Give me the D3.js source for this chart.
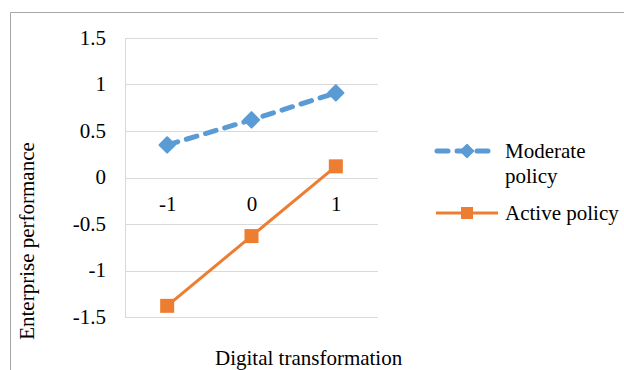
<!DOCTYPE html>
<html><head><meta charset="utf-8">
<script src="https://cdn.jsdelivr.net/npm/d3@7"></script>
<style>body{margin:0;background:#fff}svg{display:block}text{font-family:"Liberation Serif","Times New Roman",serif;fill:#000}</style>
</head><body><svg id="c" width="624" height="370"></svg>
<script>
const categories = ["-1", "0", "1"];
const moderate = [0.35, 0.62, 0.91];
const active = [-1.38, -0.63, 0.12];
const yTicks = [1.5, 1, 0.5, 0, -0.5, -1, -1.5];
const seriesNames = ["Moderate policy", "Active policy"];

const svg = d3.select("#c");
const blue = "#5B9BD5", orange = "#ED7D31";
const fs = 21;

// outer border
svg.append("path").attr("d", "M10.5,372 V12.5 H630").attr("fill", "none").attr("stroke", "#A6A6A6").attr("stroke-width", 1);

const x = d3.scalePoint().domain(categories).range([125, 378]).padding(0.5);
const y = d3.scaleLinear().domain([-1.5, 1.5]).range([317, 38]);

// gridlines
const g = svg.append("g");
g.selectAll("line.grid").data(yTicks).enter().append("line")
  .attr("x1", 125).attr("x2", 378)
  .attr("y1", d => Math.round(y(d)) + 0.5).attr("y2", d => Math.round(y(d)) + 0.5)
  .attr("stroke", "#D9D9D9").attr("stroke-width", 1);
g.append("line").attr("x1", 125.5).attr("x2", 125.5).attr("y1", Math.round(y(1.5))).attr("y2", Math.round(y(-1.5)) + 1)
  .attr("stroke", "#D9D9D9");

// y tick labels
const yAxis = d3.axisLeft(y).tickValues(yTicks).tickSize(0).tickPadding(19).tickFormat(d => String(d));
const ya = svg.append("g").attr("transform", "translate(125,0)").call(yAxis);
ya.select(".domain").remove();
ya.selectAll("text").attr("font-size", fs).attr("font-family", "Liberation Serif").attr("fill", "#000").attr("dy", "0.3em");

// x tick labels (at y=0 axis, below)
const xAxis = d3.axisBottom(x).tickSize(0).tickPadding(0);
const xa = svg.append("g").attr("transform", `translate(0,${y(0)})`).call(xAxis);
xa.select(".domain").remove();
xa.selectAll("text").attr("font-size", fs).attr("font-family", "Liberation Serif").attr("fill", "#000").attr("dy", null).attr("y", 33);

// lines
const line = d3.line().x((d, i) => x(categories[i])).y(d => y(d));
svg.append("path").datum(active).attr("d", line).attr("fill", "none").attr("stroke", orange).attr("stroke-width", 3);
svg.append("path").datum(moderate).attr("d", line).attr("fill", "none").attr("stroke", blue)
  .attr("stroke-width", 5).attr("stroke-dasharray", "11,9").attr("stroke-linecap", "round");

// markers
const diamond = d3.symbol().type(d3.symbolDiamond2).size(150);
svg.selectAll("path.dm").data(moderate).enter().append("path")
  .attr("transform", (d, i) => `translate(${x(categories[i])},${y(d)})`)
  .attr("d", diamond).attr("fill", blue).attr("stroke", blue).attr("stroke-width", 2).attr("stroke-linejoin", "round");
svg.selectAll("rect.sq").data(active).enter().append("rect")
  .attr("x", (d, i) => x(categories[i]) - 7).attr("y", d => y(d) - 7)
  .attr("width", 14).attr("height", 14).attr("fill", orange);

// legend
const lg = svg.append("g");
lg.append("line").attr("x1", 437).attr("x2", 491).attr("y1", 151).attr("y2", 151)
  .attr("stroke", blue).attr("stroke-width", 5).attr("stroke-dasharray", "11,9").attr("stroke-linecap", "round");
lg.append("path").attr("transform", "translate(467,151)").attr("d", d3.symbol().type(d3.symbolDiamond2).size(110)).attr("fill", blue).attr("stroke", blue).attr("stroke-width", 1.5).attr("stroke-linejoin", "round");
lg.append("text").attr("x", 505).attr("y", 158).attr("font-size", fs).text("Moderate");
lg.append("text").attr("x", 505).attr("y", 183).attr("font-size", fs).text("policy");
lg.append("line").attr("x1", 436).attr("x2", 498).attr("y1", 213).attr("y2", 213).attr("stroke", orange).attr("stroke-width", 3);
lg.append("rect").attr("x", 461).attr("y", 207).attr("width", 12).attr("height", 12).attr("fill", orange);
lg.append("text").attr("x", 505).attr("y", 220).attr("font-size", fs).text("Active policy");

// axis titles
svg.append("text").attr("transform", "translate(34,241) rotate(-90)").attr("text-anchor", "middle").attr("font-size", fs).text("Enterprise performance");
svg.append("text").attr("x", 215).attr("y", 365).attr("font-size", fs).text("Digital transformation");
</script></body></html>
